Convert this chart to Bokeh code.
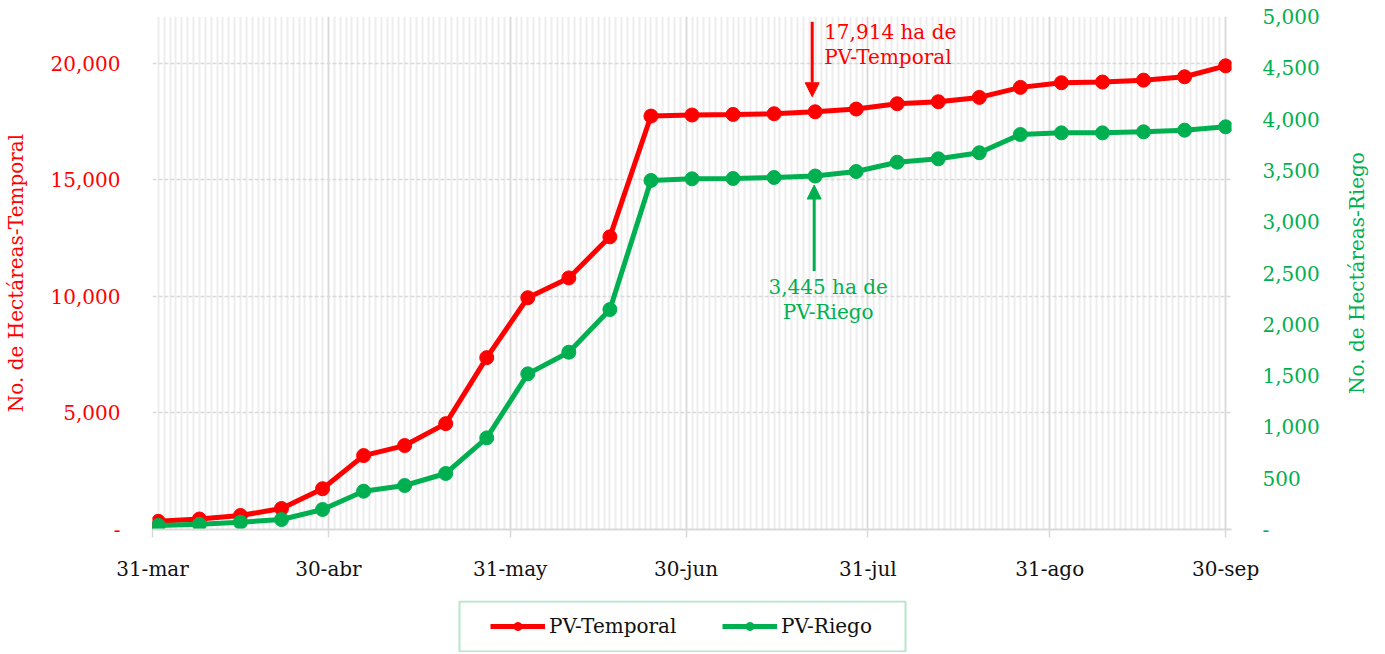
import math
from datetime import datetime, timedelta
from bokeh.plotting import figure
from bokeh.layouts import column, row
from bokeh.models import (Range1d, LinearAxis, FixedTicker, Legend, LegendItem,
                          Arrow, NormalHead, Label, BoxAnnotation)
from bokeh.embed import file_html
from bokeh.resources import INLINE

# ---------------- data ----------------
n_weeks = 26  # weekly observations from 1-abr to 30-sep, plus 31-mar
dates = ["2021-03-31"] + [(datetime(2021, 4, 1) + timedelta(days=7 * i)).strftime("%Y-%m-%d")
                          for i in range(n_weeks + 1)]

temporal = [0, 350, 450, 600, 900, 1750, 3170, 3600, 4540, 7370, 9940, 10790, 12550,
            17730, 17775, 17800, 17830, 17914, 18030, 18260, 18345, 18530, 18960,
            19160, 19190, 19270, 19415, 19886]
riego = [0, 40, 50, 71, 97, 195, 373, 429, 546, 893, 1517, 1728, 2144, 3402, 3418,
         3421, 3431, 3445, 3489, 3580, 3613, 3672, 3850, 3866, 3866, 3876, 3892, 3925]

month_tick_dates = ["2021-03-31", "2021-04-30", "2021-05-31", "2021-06-30",
                    "2021-07-31", "2021-08-31", "2021-09-30"]
month_tick_labels = ["31-mar", "30-abr", "31-may", "30-jun", "31-jul", "31-ago", "30-sep"]

left_ticks = [0, 5000, 10000, 15000, 20000]
left_labels = ["-", "5,000", "10,000", "15,000", "20,000"]
right_ticks = [0, 500, 1000, 1500, 2000, 2500, 3000, 3500, 4000, 4500, 5000]
right_labels = ["-", "500", "1,000", "1,500", "2,000", "2,500", "3,000", "3,500",
                "4,000", "4,500", "5,000"]

left_title = "No. de Hectáreas-Temporal"
right_title = "No. de Hectáreas-Riego"

annot_idx = 17  # 22-jul
annot_temporal = "17,914 ha de"
annot_temporal2 = "PV-Temporal"
annot_riego = "3,445 ha de"
annot_riego2 = "PV-Riego"

# ---------------- helpers ----------------
EPOCH = datetime(1970, 1, 1)
def to_dt(s):
    return datetime.strptime(s, "%Y-%m-%d")
def to_ms(d):
    return (d - EPOCH).total_seconds() * 1000.0

x = [to_dt(s) for s in dates]
major_ms = [to_ms(to_dt(s)) for s in month_tick_dates]
d0 = to_dt(month_tick_dates[0])
d1 = to_dt(month_tick_dates[-1]) + timedelta(days=1)
minor_ms = [to_ms(d0 + timedelta(days=i)) for i in range((d1 - d0).days + 1)]

RED = "#ff0000"
GREEN = "#00b050"
GRID = "#d9d9d9"
FONT = "DejaVu Serif"
FS = "20px"
W = 1369
RW = 32            # width of the strip holding the right-axis title
TOP, BOTTOM = 16, 71
H = 600

p = figure(width=W - RW, height=H, x_axis_type="datetime",
           output_backend="svg", toolbar_location=None,
           x_range=Range1d(to_ms(d0), to_ms(d1)),
           y_range=Range1d(0, 22000),
           min_border_left=146, min_border_right=138 - RW,
           min_border_top=TOP, min_border_bottom=BOTTOM)
p.outline_line_color = None
p.extra_y_ranges = {"riego": Range1d(0, 5000)}

# x axis
p.xaxis.ticker = FixedTicker(ticks=major_ms, minor_ticks=minor_ms)
p.xaxis.major_label_overrides = {t: l for t, l in zip(major_ms, month_tick_labels)}
p.xaxis.axis_line_color = GRID
p.xaxis.axis_line_width = 2
p.xaxis.major_tick_line_color = GRID
p.xaxis.major_tick_line_width = 1.5
p.xaxis.major_tick_out = 8
p.xaxis.major_tick_in = 0
p.xaxis.minor_tick_line_color = None
p.xaxis.minor_tick_out = 0
p.xaxis.major_label_text_font = FONT
p.xaxis.major_label_text_font_size = FS
p.xaxis.major_label_text_color = "#111111"
p.xaxis.major_label_standoff = 19

p.xgrid.grid_line_color = GRID
p.xgrid.grid_line_width = 1.5
p.xgrid.minor_grid_line_color = "#ededed"
p.xgrid.minor_grid_line_width = 2

# left y axis
p.yaxis.ticker = FixedTicker(ticks=left_ticks)
p.yaxis.major_label_overrides = {t: l for t, l in zip(left_ticks, left_labels)}
p.yaxis.axis_line_color = None
p.yaxis.major_tick_line_color = None
p.yaxis.minor_tick_line_color = None
p.yaxis.major_tick_out = 0
p.yaxis.minor_tick_out = 0
p.yaxis.major_label_text_color = RED
p.yaxis.major_label_text_font = FONT
p.yaxis.major_label_text_font_size = FS
p.yaxis.major_label_standoff = 32
p.yaxis.axis_label = left_title
p.yaxis.axis_label_text_color = RED
p.yaxis.axis_label_text_font = FONT
p.yaxis.axis_label_text_font_size = FS
p.yaxis.axis_label_text_font_style = "normal"
p.yaxis.axis_label_standoff = 20

p.ygrid.grid_line_color = GRID
p.ygrid.grid_line_width = 1.5
p.ygrid.grid_line_dash = "4 2"

# right y axis (its title is drawn in the narrow strip to the right)
ra = LinearAxis(y_range_name="riego", ticker=FixedTicker(ticks=right_ticks))
ra.major_label_overrides = {t: l for t, l in zip(right_ticks, right_labels)}
ra.axis_line_color = None
ra.major_tick_line_color = None
ra.minor_tick_line_color = None
ra.major_tick_out = 0
ra.minor_tick_out = 0
ra.major_label_text_color = GREEN
ra.major_label_text_font = FONT
ra.major_label_text_font_size = FS
ra.major_label_standoff = 31
p.add_layout(ra, "right")

# series
l1 = p.line(x, temporal, line_color=RED, line_width=5)
s1 = p.scatter(x, temporal, size=14, fill_color=RED, line_color=RED)
l2 = p.line(x, riego, line_color=GREEN, line_width=5, y_range_name="riego")
s2 = p.scatter(x, riego, size=14, fill_color=GREEN, line_color=GREEN, y_range_name="riego")

# annotations
ax = x[annot_idx]
tpx = 22000 / 513.0   # temporal units per pixel
rpx = 5000 / 513.0    # riego units per pixel
p.add_layout(Arrow(end=NormalHead(size=14, fill_color=RED, line_color=RED, line_width=1),
                   x_start=ax - timedelta(hours=12), x_end=ax - timedelta(hours=12),
                   y_start=temporal[annot_idx] + 90 * tpx,
                   y_end=temporal[annot_idx] + 15 * tpx,
                   line_color=RED, line_width=3))
p.add_layout(Label(x=ax, y=temporal[annot_idx], x_offset=9, y_offset=80,
                   text=annot_temporal, text_color=RED, text_font=FONT,
                   text_font_size=FS, text_baseline="middle", text_align="left"))
p.add_layout(Label(x=ax, y=temporal[annot_idx], x_offset=9, y_offset=55,
                   text=annot_temporal2, text_color=RED, text_font=FONT,
                   text_font_size=FS, text_baseline="middle", text_align="left"))

p.add_layout(Arrow(end=NormalHead(size=14, fill_color=GREEN, line_color=GREEN, line_width=1),
                   x_start=ax - timedelta(hours=4), x_end=ax - timedelta(hours=4),
                   y_start=riego[annot_idx] - 95 * rpx,
                   y_end=riego[annot_idx] - 9 * rpx,
                   y_range_name="riego",
                   line_color=GREEN, line_width=3))
p.add_layout(Label(x=ax, y=riego[annot_idx], x_offset=13, y_offset=-111,
                   y_range_name="riego",
                   text=annot_riego, text_color=GREEN, text_font=FONT,
                   text_font_size=FS, text_baseline="middle", text_align="center"))
p.add_layout(Label(x=ax, y=riego[annot_idx], x_offset=13, y_offset=-136,
                   y_range_name="riego",
                   text=annot_riego2, text_color=GREEN, text_font=FONT,
                   text_font_size=FS, text_baseline="middle", text_align="center"))

# ---------------- right-axis title strip ----------------
r = figure(width=RW, height=H, output_backend="svg", toolbar_location=None,
           x_range=Range1d(0, 1), y_range=Range1d(0, 1),
           min_border_left=0, min_border_right=0,
           min_border_top=TOP, min_border_bottom=BOTTOM,
           x_axis_location=None, y_axis_location=None)
r.outline_line_color = None
r.xgrid.visible = False
r.ygrid.visible = False
r.add_layout(Label(x=0.5, y=0.5, x_offset=3, text=right_title, angle=math.pi / 2,
                   text_color=GREEN, text_font=FONT, text_font_size=FS,
                   text_align="center", text_baseline="middle"))

# ---------------- legend strip ----------------
LH = 52
q = figure(width=W, height=LH, output_backend="svg", toolbar_location=None,
           x_range=Range1d(0, 1), y_range=Range1d(0, 1),
           min_border_left=146, min_border_right=138,
           min_border_top=0, min_border_bottom=0,
           x_axis_location=None, y_axis_location=None)
q.outline_line_color = None
q.xgrid.visible = False
q.ygrid.visible = False
# legend proxies: same series, outside this strip's ranges, so only the legend shows them
ql1 = q.line(x, temporal, line_color=RED, line_width=5)
qs1 = q.scatter(x, temporal, size=11, fill_color=RED, line_color=RED)
ql2 = q.line(x, riego, line_color=GREEN, line_width=5)
qs2 = q.scatter(x, riego, size=11, fill_color=GREEN, line_color=GREEN)
q.add_layout(BoxAnnotation(left=313, right=759, bottom=1, top=LH - 1,
                           left_units="screen", right_units="screen",
                           bottom_units="screen", top_units="screen",
                           fill_color=None, fill_alpha=0,
                           line_color=GREEN, line_width=2))
legend = Legend(items=[LegendItem(label="PV-Temporal", renderers=[ql1, qs1]),
                       LegendItem(label="PV-Riego", renderers=[ql2, qs2])],
                orientation="horizontal", location="left",
                border_line_color=None, background_fill_alpha=0,
                padding=0, margin=344, spacing=30, glyph_width=55, glyph_height=20,
                label_width=143, label_standoff=4, label_text_font=FONT,
                label_text_font_size=FS, label_text_color="#111111")
q.add_layout(legend, "center")

layout = column(row(p, r, spacing=0), q, spacing=0)
open("out.html", "w").write(file_html(layout, INLINE))
